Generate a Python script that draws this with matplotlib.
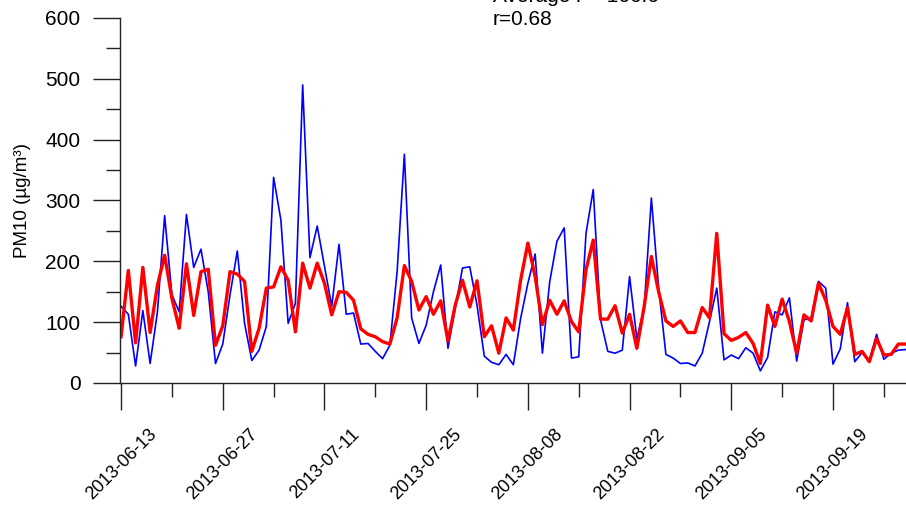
import numpy as np
import pandas as pd
import matplotlib
matplotlib.use("Agg")
import matplotlib.pyplot as plt
import matplotlib.dates as mdates

plt.rcParams["font.family"] = ["Liberation Sans", "DejaVu Sans"]

# daily PM10, 2013-06-13 onwards
start = "2013-06-13"
observed = [126, 113, 28, 119, 32, 116, 275, 145, 117, 277, 190, 220, 150, 32, 64, 145, 217, 98,
            37, 54, 93, 338, 268, 98, 131, 490, 206, 258, 192, 126, 228, 113, 115, 64, 65, 52,
            40, 62, 183, 376, 107, 65, 95, 150, 194, 57, 123, 189, 191, 128, 44, 34, 30, 47,
            30, 106, 164, 212, 49, 166, 233, 255, 41, 43, 246, 318, 104, 52, 49, 54, 175, 73,
            123, 304, 156, 47, 41, 32, 33, 28, 49, 101, 156, 38, 46, 40, 58, 49, 20, 42,
            117, 112, 140, 36, 104, 107, 167, 156, 31, 56, 132, 35, 50, 36, 80, 39, 49, 54, 55]
modelled = [76, 185, 66, 190, 83, 160, 210, 139, 90, 196, 111, 183, 187, 62, 94, 183, 179, 167,
            52, 90, 156, 158, 191, 169, 84, 197, 156, 197, 164, 112, 150, 149, 136, 89, 80, 76,
            68, 64, 107, 193, 167, 120, 142, 113, 135, 69, 128, 169, 125, 168, 76, 94, 49, 107,
            87, 169, 230, 175, 96, 136, 113, 135, 101, 84, 186, 235, 105, 105, 127, 82, 113, 57,
            125, 208, 150, 102, 93, 102, 83, 83, 124, 107, 246, 81, 70, 75, 83, 65, 32, 128,
            93, 138, 101, 49, 112, 102, 164, 136, 93, 80, 124, 47, 52, 35, 73, 46, 47, 64, 64]
dates = pd.date_range(start, periods=len(observed), freq="D")

fig = plt.figure(figsize=(9.06, 5.07), dpi=100)
ax = fig.add_axes([120 / 906, 1 - 383 / 507, 1 - 120 / 906, 365 / 507])

ax.plot(dates, observed, color="#0000ff", lw=1.2)
ax.plot(dates, modelled, color="#ff0000", lw=2.4)

ax.set_ylim(0, 600)
ax.set_xlim(dates[0] - pd.Timedelta(hours=3.5), dates[0] + pd.Timedelta(days=108.05))
ax.set_yticks(np.arange(0, 601, 100))
ax.set_yticks(np.arange(50, 600, 100), minor=True)
ax.set_xticks(dates[::14])
ax.set_xticks(dates[::7], minor=True)
ax.xaxis.set_major_formatter(mdates.DateFormatter("%Y-%m-%d"))

for s in ["top", "right"]:
    ax.spines[s].set_visible(False)
for s in ["left", "bottom"]:
    ax.spines[s].set_linewidth(1.0)
    ax.spines[s].set_color("#222222")

ax.tick_params(which="major", length=19.5, width=1.0, color="#222222")
ax.tick_params(which="minor", length=10, width=1.0, color="#222222")
ax.tick_params(axis="y", which="major", pad=9, labelsize=15)
ax.tick_params(axis="x", which="major", pad=11, labelsize=13)
for lab in ax.get_xticklabels():
    lab.set_rotation(45)
    lab.set_ha("center")

ax.set_ylabel("PM10 (\u00b5g/m\u00b3)", fontsize=13.5, labelpad=10)

fig.text(493 / 906, 1 - 2 / 507, "Average r = 166.6", fontsize=15, va="baseline", ha="left")
fig.text(493 / 906, 1 - 25 / 507, "r=0.68", fontsize=15, va="baseline", ha="left")

fig.savefig("out.png", dpi=100)
